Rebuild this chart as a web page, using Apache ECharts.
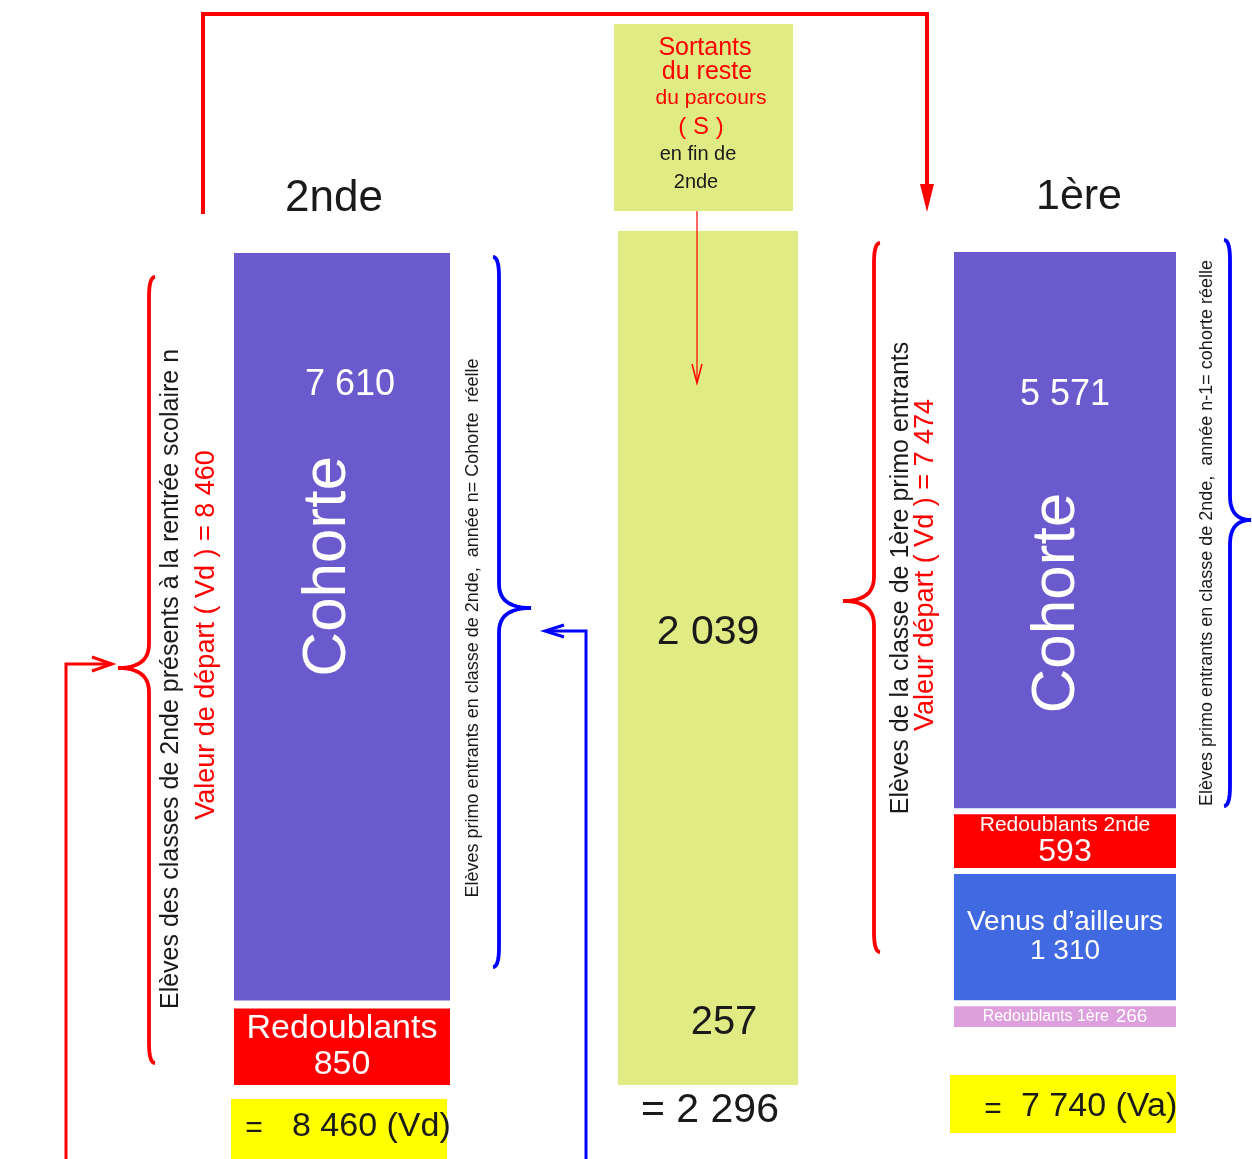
<!DOCTYPE html>
<html>
<head>
<meta charset="utf-8">
<script src="https://cdn.jsdelivr.net/npm/echarts@6/dist/echarts.min.js"></script>
<style>
	body { margin: 0; background: #fff; }
	#main { width: 1252px; height: 1159px; }
</style>
</head>
<body>
<div id="main"></div>
<script>
// columns of the schema
var columns = ['2nde', 'Sortants', '1ère'];

// 2nde : bottom to top
var labels2nde = ['Redoublants', 'Cohorte'];
var values2nde = [850, 7610];

// leavers at end of 2nde : bottom to top
var valuesSortants = [257, 2039];

// 1ère : bottom to top
var labels1ere = ['Redoublants 1ère', 'Venus d\u2019ailleurs', 'Redoublants 2nde', 'Cohorte'];
var values1ere = [266, 1310, 593, 5571];

var FONT = "'Liberation Sans', Arial, sans-serif";
var INK = '#1a1a1a';
var RED = '#ff0000';
var BLUE = '#0000ff';
var GREEN = '#e0eb84';

function fmt(n) {
	return String(n).replace(/\B(?=(\d{3})+(?!\d))/g, ' ');
}
function sum(arr) {
	var s = 0;
	for (var i = 0; i < arr.length; i++) {
		s += arr[i];
	}
	return s;
}

var total2nde = sum(values2nde);
var totalSortants = sum(valuesSortants);
var total1ere = sum(values1ere);
// primo entrants in 1ère = everything except the 1ère repeaters
var primo1ere = total1ere - values1ere[0];

function seg(col, value, color, border, label) {
	var s = {
		type : 'bar',
		xAxisIndex : col,
		yAxisIndex : col,
		stack : columns[col],
		barWidth : '100%',
		silent : true,
		data : [ value ],
		itemStyle : {
			color : color,
			borderColor : '#fff',
			borderWidth : border
		},
		label : label
	};
	if (!border) {
		// one uniform block : the background hides the seam between segments
		s.showBackground = true;
		s.backgroundStyle = { color : color };
	}
	return s;
}

var myChart = echarts.init(document.getElementById('main'));
var option = {
	animation : false,
	textStyle : { fontFamily : FONT },
	grid : [
		{ left : 230, top : 249, width : 224, height : 840 },
		{ left : 618, top : 231, width : 180, height : 854 },
		{ left : 951, top : 249, width : 228, height : 781 }
	],
	xAxis : [
		{ type : 'category', gridIndex : 0, data : [columns[0]], show : false },
		{ type : 'category', gridIndex : 1, data : [columns[1]], show : false },
		{ type : 'category', gridIndex : 2, data : [columns[2]], show : false }
	],
	yAxis : [
		{ type : 'value', gridIndex : 0, min : 0, max : total2nde, show : false },
		{ type : 'value', gridIndex : 1, min : 0, max : totalSortants, show : false },
		{ type : 'value', gridIndex : 2, min : 0, max : total1ere, show : false }
	],
	series : [
		// 2nde
		seg(0, values2nde[0], '#ff0000', 4, {
			show : true, position : 'inside', color : '#fff',
			fontSize : 34, lineHeight : 36,
			formatter : labels2nde[0] + '\n' + fmt(values2nde[0])
		}),
		seg(0, values2nde[1], '#6a5acd', 4, {
			show : true, position : ['50%', '18%'], align : 'center', verticalAlign : 'middle',
			offset : [8, 0], color : '#fff', fontSize : 36,
			formatter : fmt(values2nde[1])
		}),
		// sortants
		seg(1, valuesSortants[0], GREEN, 0, {
			show : true, position : 'inside', offset : [16, -14], color : INK, fontSize : 40,
			formatter : fmt(valuesSortants[0])
		}),
		seg(1, valuesSortants[1], GREEN, 0, {
			show : true, position : ['50%', '53%'], align : 'center', verticalAlign : 'middle',
			color : INK, fontSize : 41,
			formatter : fmt(valuesSortants[1])
		}),
		// 1ère
		seg(2, values1ere[0], '#dda0dd', 3, {
			show : true, position : 'inside', color : '#fff',
			formatter : '{a|' + labels1ere[0] + '}  {b|' + fmt(values1ere[0]) + '}',
			rich : { a : { fontSize : 16, color : '#fff' }, b : { fontSize : 19, color : '#fff' } }
		}),
		seg(2, values1ere[1], '#4169e1', 3, {
			show : true, position : 'inside', color : '#fff', fontSize : 28, lineHeight : 29,
			formatter : labels1ere[1] + '\n' + fmt(values1ere[1])
		}),
		seg(2, values1ere[2], '#ff0000', 3, {
			show : true, position : 'inside', color : '#fff',
			formatter : '{a|' + labels1ere[2] + '}\n{b|' + fmt(values1ere[2]) + '}',
			rich : { a : { fontSize : 21, lineHeight : 23, color : '#fff' }, b : { fontSize : 32, lineHeight : 32, color : '#fff' } }
		}),
		seg(2, values1ere[3], '#6a5acd', 3, {
			show : true, position : ['50%', '26%'], align : 'center', verticalAlign : 'middle',
			color : '#fff', fontSize : 36,
			formatter : fmt(values1ere[3])
		})
	]
};
myChart.setOption(option);

// helpers for the annotations
function txt(x, y, s, size, color, rot, align) {
	return {
		type : 'text', x : x, y : y, rotation : rot || 0, z : 20,
		style : {
			text : s, fontSize : size, fontFamily : FONT, fill : color,
			align : align || 'center', verticalAlign : 'middle'
		}
	};
}
function line(points, color, width) {
	return {
		type : 'polyline', z : 20,
		shape : { points : points },
		style : { stroke : color, lineWidth : width, fill : null }
	};
}
function quad(p0, p1, p2, out) {
	for (var i = 1; i <= 12; i++) {
		var t = i / 12, u = 1 - t;
		out.push([u * u * p0[0] + 2 * u * t * p1[0] + t * t * p2[0],
			u * u * p0[1] + 2 * u * t * p1[1] + t * t * p2[1]]);
	}
}
function brace(x, y1, y2, ym, tipX, color) {
	// ends curl to the side opposite to the tip
	var d = tipX < x ? 6 : -6;
	var pts = [[x + d, y1]];
	quad([x + d, y1], [x, y1], [x, y1 + 20], pts);
	pts.push([x, ym - 24]);
	quad([x, ym - 24], [x, ym], [tipX, ym], pts);
	quad([tipX, ym], [x, ym], [x, ym + 24], pts);
	pts.push([x, y2 - 20]);
	quad([x, y2 - 20], [x, y2], [x + d, y2], pts);
	return line(pts, color, 3.8);
}

function buildGraphics() {
	var g = [];
	var rot = Math.PI / 2;

	// "Cohorte" written along the cohort boxes
	var c1 = myChart.convertToPixel({ gridIndex : 0 }, [0, values2nde[0] + values2nde[1] * 0.58]);
	var c3 = myChart.convertToPixel({ gridIndex : 2 }, [0, total1ere - values1ere[3] * 0.63]);
	g.push(txt(c1[0] - 14, c1[1], labels2nde[1], 62, '#fff', rot));
	g.push(txt(c3[0] - 8, c3[1], labels1ere[3], 62, '#fff', rot));

	// column titles
	g.push(txt(334, 199, columns[0], 44, INK));
	g.push(txt(1079, 197, columns[2], 43, INK));

	// sortants box
	g.push({ type : 'rect', z : 5, shape : { x : 614, y : 24, width : 179, height : 187 }, style : { fill : GREEN } });
	g.push(txt(705, 48, 'Sortants', 25, RED));
	g.push(txt(707, 72, 'du reste', 25, RED));
	g.push(txt(711, 98, 'du parcours', 21, RED));
	g.push(txt(701, 127, '( S )', 24, RED));
	g.push(txt(698, 154, 'en fin de', 20, INK));
	g.push(txt(696, 182, '2nde', 20, INK));
	g.push(line([[697, 211], [697, 382]], RED, 1.2));
	g.push(line([[692, 364], [697, 383], [702, 364]], RED, 1.5));

	// top connector 2nde -> 1ère
	g.push(line([[203, 214], [203, 14], [927, 14], [927, 186]], RED, 4));
	g.push({ type : 'polygon', z : 20, shape : { points : [[920, 184], [934, 184], [927, 212]] }, style : { fill : RED } });

	// totals
	g.push({ type : 'rect', z : 5, shape : { x : 231, y : 1099, width : 216, height : 60 }, style : { fill : '#ffff00' } });
	g.push(txt(254, 1129, '=', 30, INK));
	g.push(txt(292, 1127, fmt(total2nde) + ' (Vd)', 34, INK, 0, 'left'));
	g.push({ type : 'rect', z : 5, shape : { x : 950, y : 1075, width : 226, height : 58 }, style : { fill : '#ffff00' } });
	g.push(txt(993, 1110, '=', 30, INK));
	g.push(txt(1021, 1107, fmt(total1ere) + ' (Va)', 34, INK, 0, 'left'));
	g.push(txt(710, 1111, '= ' + fmt(totalSortants), 41, INK));

	// left side : 2nde
	g.push(brace(149, 277, 1063, 668, 118, RED));
	g.push(line([[66, 1159], [66, 664], [110, 664]], RED, 3));
	g.push(line([[92, 657], [112, 664], [92, 671]], RED, 3));
	g.push(txt(171, 679, 'Elèves des classes de 2nde présents à la rentrée scolaire n', 25, INK, rot));
	g.push(txt(207, 635, 'Valeur de départ ( Vd ) = ' + fmt(total2nde), 27, RED, rot));

	// right of 2nde : cohort
	g.push(brace(499, 257, 967, 608, 531, BLUE));
	g.push(txt(473, 628, 'Elèves primo entrants en classe de 2nde,  année n= Cohorte  réelle', 18, INK, rot));
	g.push(line([[586, 1159], [586, 631], [547, 631]], BLUE, 3));
	g.push(line([[564, 625], [545, 631], [564, 637]], BLUE, 3));

	// left of 1ère
	g.push(brace(874, 243, 952, 601, 843, RED));
	g.push(txt(901, 578, 'Elèves de la classe de 1ère primo entrants', 25, INK, rot));
	g.push(txt(926, 565, 'Valeur départ ( Vd ) = ' + fmt(primo1ere), 27, RED, rot));

	// right of 1ère
	g.push(brace(1230, 240, 806, 520, 1251, BLUE));
	g.push(txt(1207, 533, 'Elèves primo entrants en classe de 2nde,  année n-1= cohorte réelle', 18, INK, rot));

	return g;
}

myChart.setOption({ graphic : buildGraphics() });
</script>
</body>
</html>
